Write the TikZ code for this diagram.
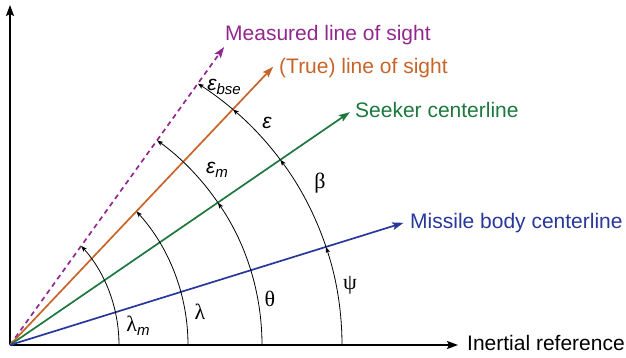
\documentclass[tikz,border=0pt]{standalone}
\usepackage{fontspec}
\setmainfont{Liberation Sans}
\newfontfamily\gserif{Liberation Serif}
\usetikzlibrary{arrows.meta}
\definecolor{cpurple}{RGB}{146,39,143}
\definecolor{corange}{RGB}{200,100,40}
\definecolor{cgreen}{RGB}{28,120,60}
\definecolor{cblue}{RGB}{40,55,155}
\newcommand{\subtxt}[1]{\raisebox{-0.4ex}{\fontsize{15}{15}\selectfont\itshape #1}}
\newcommand{\gsym}[1]{{\gserif\fontsize{22}{26}\selectfont #1}}
\tikzset{
  axisline/.style={line width=1.9pt, -{Stealth[length=11pt,width=8pt,inset=2pt]}},
  ray/.style={line width=1.7pt, -{Stealth[length=11pt,width=7.5pt,inset=2pt]}},
  angarc/.style={line width=0.8pt, -{Stealth[length=6pt,width=4.5pt,inset=1.5pt]}},
  lbl/.style={inner sep=0pt, anchor=base west},
  glbl/.style={inner sep=0pt},
}
\begin{document}
\begin{tikzpicture}[x=1pt,y=1pt,font=\fontsize{21}{25}\selectfont]
\useasboundingbox (-10,-12) rectangle (616,345);
\coordinate (O) at (0,0);
\coordinate (Ytop) at (0,340);
\coordinate (Xend) at (448,0);
\coordinate (Btip) at (17.25:412);
\coordinate (Gtip) at (34.42:412);
\coordinate (Otip) at (46.6:383);
\coordinate (Ptip) at (54.3:367);
\coordinate (Cbig) at (23,0);
\coordinate (Clam) at (-21,0);
\coordinate (Clm) at (-40,0);

% axes
\draw[axisline] (O) -- (Ytop);
\draw[axisline] (O) -- (Xend);

% rays
\draw[ray, cpurple, dash pattern=on 5pt off 4pt] (O) -- (Ptip);
\draw[ray, corange] (O) -- (Otip);
\draw[ray, cgreen] (O) -- (Gtip);
\draw[ray, cblue] (O) -- (Btip);

% ray labels
\node[lbl, text=cpurple] (lmeas) at (215,305) {Measured line of sight};
\node[lbl, text=corange] (ltrue) at (269,272) {(True) line of sight};
\node[lbl, text=cgreen] (lseek) at (345,228) {Seeker centerline};
\node[lbl, text=cblue] (lbody) at (400,117) {Missile body centerline};
\node[lbl] (liner) at (457,-5) {Inertial reference};

% lambda_m arc
\draw[angarc] ([shift={(0:149)}]Clm) arc[start angle=0,end angle=41.7,radius=149];
% lambda arc
\draw[angarc] ([shift={(0:199)}]Clam) arc[start angle=0,end angle=42.2,radius=199];
% theta and eps_m arc
\draw[angarc] ([shift={(0:252)}]O) arc[start angle=0,end angle=34.42,radius=252];
\draw[angarc] ([shift={(34.42:252)}]O) arc[start angle=34.42,end angle=54.3,radius=252];
% psi, beta, eps, eps_bse arc
\draw[angarc] ([shift={(0:309)}]Cbig) arc[start angle=0,end angle=18.5,radius=309];
\draw[angarc] ([shift={(18.5:309)}]Cbig) arc[start angle=18.5,end angle=36.84,radius=309];
\draw[angarc] ([shift={(36.84:309)}]Cbig) arc[start angle=36.84,end angle=49.69,radius=309];
\draw[angarc] ([shift={(49.69:309)}]Cbig) arc[start angle=49.69,end angle=57.77,radius=309];

% angle labels
\node[glbl] (llm) at (128,19) {\gsym{λ}\subtxt{m}};
\node[glbl] (llam) at (190,33) {\gsym{λ}};
\node[glbl] (lth) at (260,46) {\gsym{θ}};
\node[glbl] (lpsi) at (340,60) {\gsym{ψ}};
\node[glbl] (lbeta) at (310,162) {\gsym{β}};
\node[glbl] (leps) at (257,222) {\itshape ε};
\node[glbl] (lepsm) at (207,175) {\itshape ε\subtxt{m}};
\node[glbl] (lbse) at (214,258) {\itshape ε\subtxt{bse}};
\end{tikzpicture}
\end{document}
